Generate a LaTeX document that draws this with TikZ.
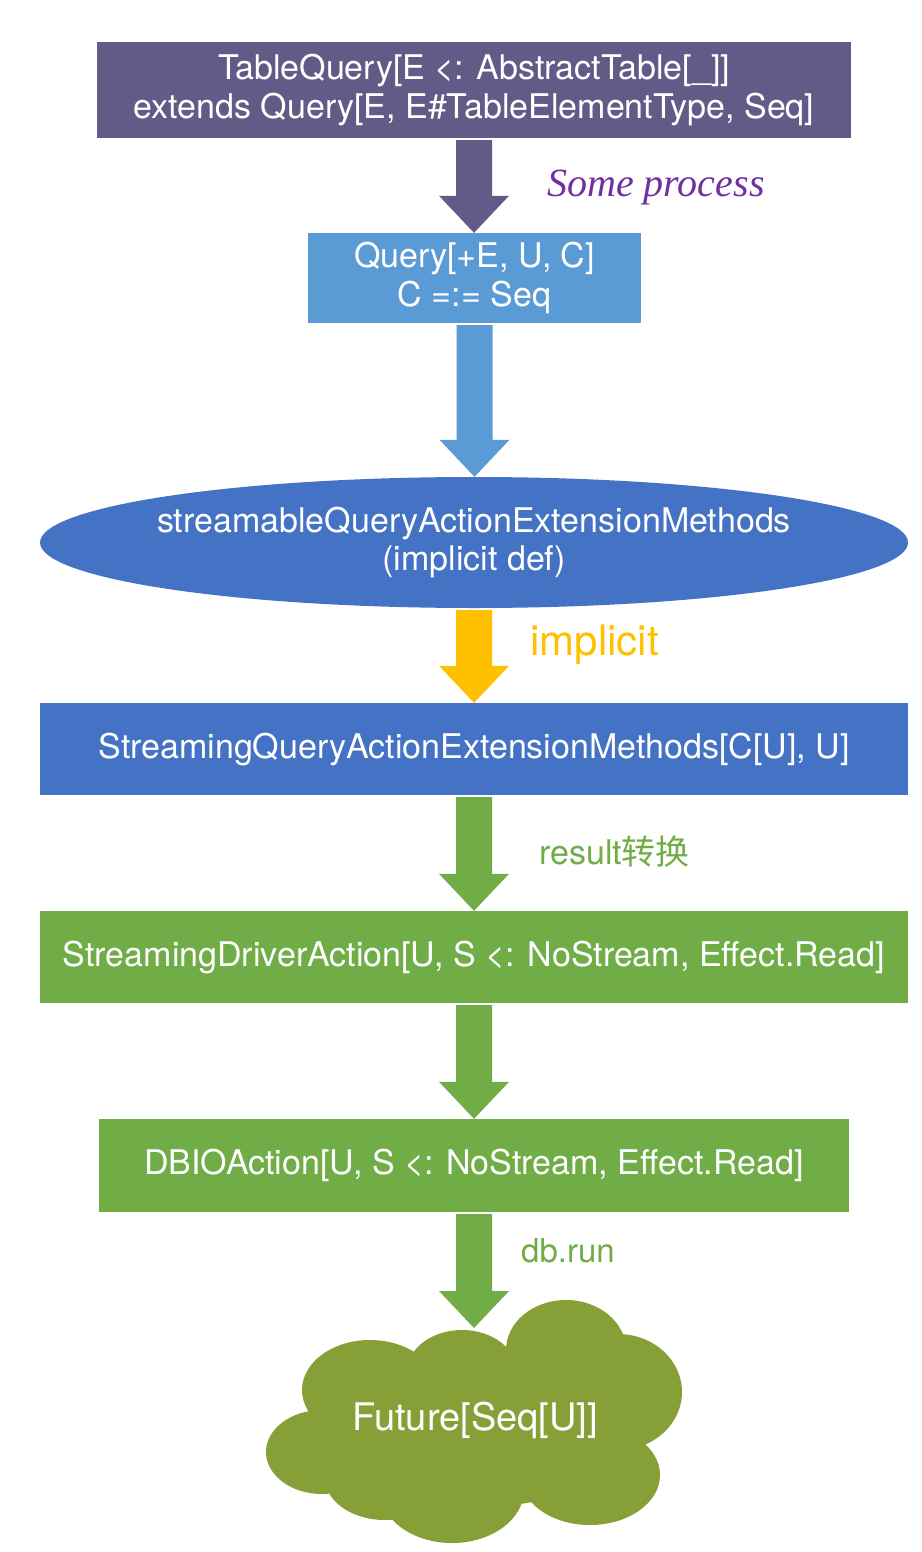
\documentclass[tikz,border=0pt]{standalone}
\usepackage{fontspec}
\setmainfont{TeX Gyre Heros}
\newfontfamily\cjkfont{Noto Sans CJK SC}
\newfontfamily\handfont{Liberation Serif}
\usetikzlibrary{shapes.geometric,calc}
\definecolor{cPurple}{HTML}{635A88}
\definecolor{cLight}{HTML}{5B9BD5}
\definecolor{cBlue}{HTML}{4472C4}
\definecolor{cGreen}{HTML}{70AD47}
\definecolor{cYellow}{HTML}{FFC000}
\definecolor{cOlive}{HTML}{86A037}
\definecolor{cHand}{HTML}{7030A0}
\newcommand\blockarr[3]{%
  \fill[#3] let \p1=(#1.south), \p2=(#2) in
  (\x1-18pt,\y1-2pt) -- (\x1+18pt,\y1-2pt) -- (\x1+18pt,\y2+37pt) -- (\x1+35pt,\y2+37pt)
  -- (\x1,\y2) -- (\x1-35pt,\y2+37pt) -- (\x1-18pt,\y2+37pt) -- cycle;}
\begin{document}
\begin{tikzpicture}[x=1pt,y=-1pt,
  boxtext/.style={text=white,font=\fontsize{34}{38.5}\selectfont,align=center,inner sep=0pt},
  rectbox/.style={boxtext,rectangle,draw=none},
  lbl/.style={anchor=west,inner sep=0pt,font=\fontsize{34}{38}\selectfont}]
\useasboundingbox (0,0) rectangle (921,1552);
\fill[white] (0,0) rectangle (921,1552);
\node[rectbox,fill=cPurple,minimum width=754pt,minimum height=96pt] (tq) at (474,90)
  {TableQuery[E <: AbstractTable[\_]]\\extends Query[E, E\#TableElementType, Seq]};
\node[rectbox,fill=cLight,minimum width=333pt,minimum height=90pt] (q) at (474.5,278)
  {Query[+E, U, C]\\C =:= Seq};
\node[ellipse,fill=cBlue,inner sep=0pt,minimum width=868pt,minimum height=131pt] (ell) at (474,542.5) {};
\node[boxtext] (ellt) at (ell.center)
  {streamableQueryActionExtensionMethods\\(implicit def)};
\node[rectbox,fill=cBlue,minimum width=868pt,minimum height=92pt] (sq) at (474,749)
  {StreamingQueryActionExtensionMethods[C[U], U]};
\node[rectbox,fill=cGreen,minimum width=868pt,minimum height=92pt] (sd) at (474,957)
  {StreamingDriverAction[U, S <: NoStream, Effect.Read]};
\node[rectbox,fill=cGreen,minimum width=750pt,minimum height=93pt] (db) at (474,1165.5)
  {DBIOAction[U, S <: NoStream, Effect.Read]};
% cloud
\begin{scope}[cOlive]
  \fill (370,1390) ellipse [x radius=68, y radius=50];
  \fill (462,1372) ellipse [x radius=55, y radius=42];
  \fill (566,1350) ellipse [x radius=60, y radius=50];
  \fill (618,1392) ellipse [x radius=64, y radius=58];
  \fill (322,1452) ellipse [x radius=56, y radius=42];
  \fill (385,1478) ellipse [x radius=60, y radius=42];
  \fill (452,1490) ellipse [x radius=72, y radius=53];
  \fill (590,1475) ellipse [x radius=70, y radius=50];
  \fill (478,1432) ellipse [x radius=150, y radius=75];
\end{scope}
\coordinate (cl) at (475,1328);
\node[boxtext,font=\fontsize{38}{40}\selectfont] (fut) at (475,1420) {Future[Seq[U]]};
% arrows
\blockarr{tq}{q.north}{cPurple}
\blockarr{q}{ell.north}{cLight}
\blockarr{ell}{sq.north}{cYellow}
\blockarr{sq}{sd.north}{cGreen}
\blockarr{sd}{db.north}{cGreen}
\blockarr{db}{cl}{cGreen}
% labels
\node[lbl,text=cHand,font=\handfont\itshape\fontsize{40}{44}\selectfont] (l1) at (547,188) {Some process};
\node[lbl,text=cYellow,font=\fontsize{42}{46}\selectfont] (l2) at (530,645) {implicit};
\node[lbl,text=cGreen] (l3) at (539,852) {result{\cjkfont 转换}};
\node[lbl,text=cGreen,font=\fontsize{33}{38}\selectfont] (l4) at (521,1251) {db.run};
\end{tikzpicture}
\end{document}
